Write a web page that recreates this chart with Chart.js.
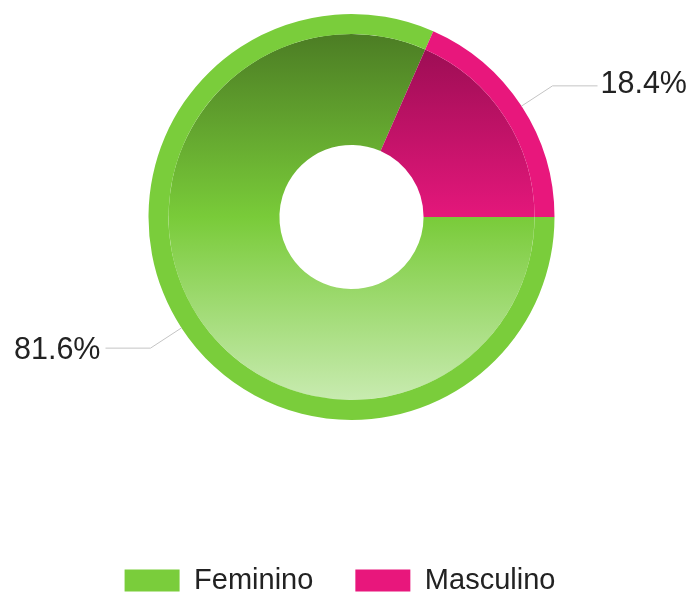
<!DOCTYPE html>
<html>
<head>
<meta charset="utf-8">
<script src="https://cdn.jsdelivr.net/npm/chart.js@4.4.1/dist/chart.umd.min.js"></script>
<style>
  html, body { margin: 0; padding: 0; background: #fff; overflow: hidden; }
</style>
</head>
<body>
<canvas id="myChart" width="693" height="605"></canvas>
<script>
// Data
const categories = ['Feminino', 'Masculino'];
const values = [81.6, 18.4];

// Colours: outer rim, and the shaded inner ring (top / middle / bottom)
const rimColors = ['#7acd3b', '#e8177c'];
const shadeTop = ['#4c7d24', '#970d51'];
const shadeMid = ['#79cb39', '#e4177b'];
const shadeBottom = ['#c8ebb0', '#f27bb6'];

function shade(ctx) {
    const chart = ctx.chart;
    const area = chart.chartArea;
    const i = ctx.dataIndex;
    if (!area) return shadeMid[i];
    const cy = (area.top + area.bottom) / 2;
    const r = (area.bottom - area.top) / 2 - 20;
    const g = chart.ctx.createLinearGradient(0, cy - r, 0, cy + r);
    g.addColorStop(0, shadeTop[i]);
    g.addColorStop(0.5, shadeMid[i]);
    g.addColorStop(1, shadeBottom[i]);
    return g;
}

// percentage labels with leader lines
const callouts = {
    id: 'callouts',
    afterDatasetsDraw(chart) {
        const meta = chart.getDatasetMeta(0);
        const c = chart.ctx;
        const total = values.reduce((a, b) => a + b, 0);
        c.save();
        meta.data.forEach((arc, i) => {
            const mid = (arc.startAngle + arc.endAngle) / 2;
            const dx = Math.cos(mid), dy = Math.sin(mid);
            const x0 = arc.x + dx * arc.outerRadius;
            const y0 = arc.y + dy * arc.outerRadius;
            const x1 = arc.x + dx * (arc.outerRadius + 37);
            const y1 = arc.y + dy * (arc.outerRadius + 37);
            const right = dx >= 0;
            const x2 = x1 + (right ? 45 : -45);
            c.strokeStyle = '#c4c4c4';
            c.lineWidth = 1;
            c.beginPath();
            c.moveTo(x0, y0);
            c.lineTo(x1, y1);
            c.lineTo(x2, y1);
            c.stroke();
            c.fillStyle = '#222';
            c.font = '30.5px "Liberation Sans", Arial, sans-serif';
            c.textAlign = right ? 'left' : 'right';
            c.textBaseline = 'middle';
            c.fillText((values[i] / total * 100).toFixed(1) + '%', x2 + (right ? 3 : -5), y1 + (right ? -1 : 2));
        });
        c.restore();
    }
};

const myChart = new Chart(document.getElementById('myChart'), {
    type: 'doughnut',
    data: {
        labels: categories,
        datasets: [
            { data: values, backgroundColor: rimColors, borderWidth: 0, weight: 20 },
            { data: values, backgroundColor: shade, borderWidth: 0, weight: 111 }
        ]
    },
    options: {
        responsive: false,
        animation: false,
        events: [],
        rotation: 90,
        cutout: '35.5%',
        layout: { padding: { top: 14, left: 0, right: 13, bottom: 0 } },
        plugins: {
            tooltip: { enabled: false },
            // empty spacer on the left so the ring sits right of the legend centre
            title: { display: true, text: '', position: 'left', fullSize: false, padding: { top: 4.3, bottom: 4.3 } },
            legend: {
                position: 'bottom',
                title: { display: true, text: '', padding: { top: 0, bottom: 89.6 } },
                labels: {
                    boxWidth: 55,
                    boxHeight: 22,
                    padding: 42,
                    color: '#222',
                    font: { size: 29, family: '"Liberation Sans", Arial, sans-serif' }
                }
            }
        }
    },
    plugins: [callouts]
});
</script>
</body>
</html>
